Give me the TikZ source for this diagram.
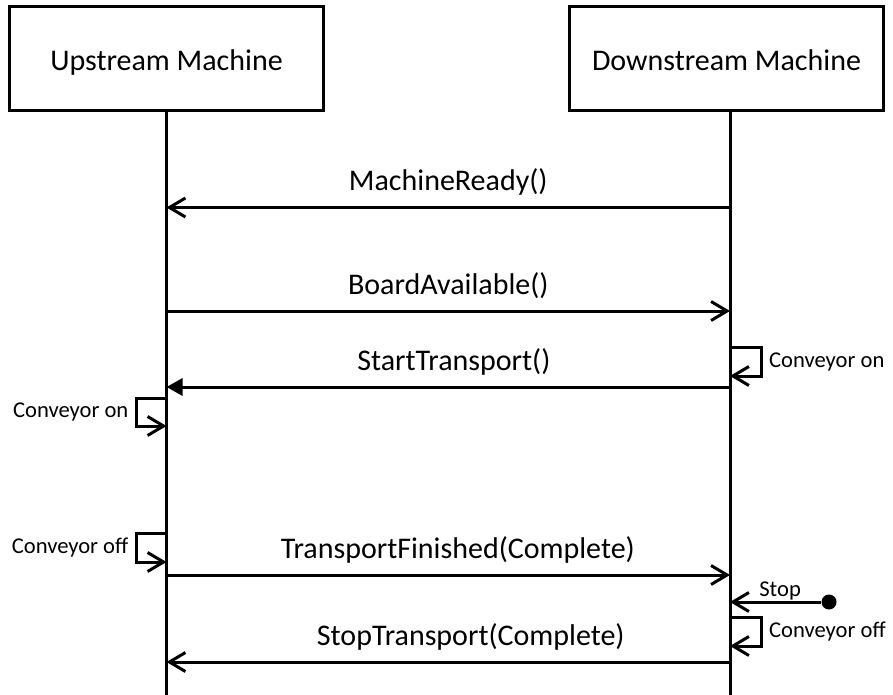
\documentclass[tikz,border=0pt]{standalone}
\usepackage{fontspec}
\setmainfont{Carlito}
\usetikzlibrary{arrows.meta}

\begin{document}
\begin{tikzpicture}[x=0.5pt, y=-0.5pt,
                      every node/.style={font=\fontsize{15pt}{18pt}\selectfont},
                      machine/.style={draw, line width=1.5pt, minimum width=157pt, minimum height=52pt,
                                      text height=1.15em, text depth=0pt},
                      life/.style={line width=1.5pt},
                      msg/.style={line width=1.5pt, -{Straight Barb[length=8pt, width=9.5pt]}},
                      msgfill/.style={line width=1.5pt, -{Triangle[length=8pt, width=8.5pt]}},
                      msglabel/.style={above=2pt},
                      note/.style={font=\fontsize{11.3pt}{13pt}\selectfont},
                      dot/.style={circle, fill, inner sep=0pt, minimum size=7.5pt}]
                      \useasboundingbox (0,0) rectangle (893,695);

                      \node[machine] (up) at (166.5,59) {Upstream Machine};
                      \node[machine] (down) at (726.5,59) {Downstream Machine};

                      \coordinate (upend) at (166.5,695);
                      \coordinate (downend) at (730,695);
                      \draw[life] (upend |- up.south) -- (upend);
                      \draw[life] (downend |- down.south) -- (downend);

                      \coordinate (u1) at (166.5,207.5);
                      \coordinate (d1) at (730,207.5);
                      \draw[msg] (d1) -- node[msglabel] (ready) {MachineReady()} (u1);

                      \coordinate (u2) at (166.5,311);
                      \coordinate (d2) at (730,311);
                      \draw[msg] (u2) -- node[msglabel] (avail) {BoardAvailable()} (d2);

                      \coordinate (d3) at (730,347);
                      \coordinate (d4) at (730,376);
                      \draw[msg] (d3) -- ++(31,0) -- node[note, right] (onright) {Conveyor on} ++(0,29) -- (d4);

                      \coordinate (u5) at (166.5,387);
                      \coordinate (d5) at (730,387);
                      \draw[msgfill] (d5) -- node[msglabel, pos=0.49] (start) {StartTransport()} (u5);

                      \coordinate (u6) at (166.5,398);
                      \coordinate (u7) at (166.5,426);
                      \draw[msg] (u6) -- ++(-30,0) -- node[note, left] (onleft) {Conveyor on} ++(0,28) -- (u7);

                      \coordinate (u8) at (166.5,533);
                      \coordinate (u9) at (166.5,562);
                      \draw[msg] (u8) -- ++(-30,0) -- node[note, left] (offleft) {Conveyor off} ++(0,29) -- (u9);

                      \coordinate (u10) at (166.5,575);
                      \coordinate (d10) at (730,575);
                      \draw[msg] (u10) -- node[msglabel, pos=0.517] (finished) {TransportFinished(Complete)} (d10);

                      \node[dot] (stopdot) at (829,602) {};
                      \coordinate (d11) at (730,602);
                      \draw[msg] (stopdot) -- node[note, above, inner sep=0pt, pos=0.45] (stop) {Stop} (d11);

                      \coordinate (d12) at (730,617);
                      \coordinate (d13) at (730,646);
                      \draw[msg] (d12) -- ++(31,0) -- node[note, right] (offright) {Conveyor off} ++(0,29) -- (d13);

                      \coordinate (u14) at (166.5,662);
                      \coordinate (d14) at (730,662);
                      \draw[msg] (d14) -- node[msglabel, pos=0.46] (stoptr) {StopTransport(Complete)} (u14);
                  \end{tikzpicture}
\end{document}
